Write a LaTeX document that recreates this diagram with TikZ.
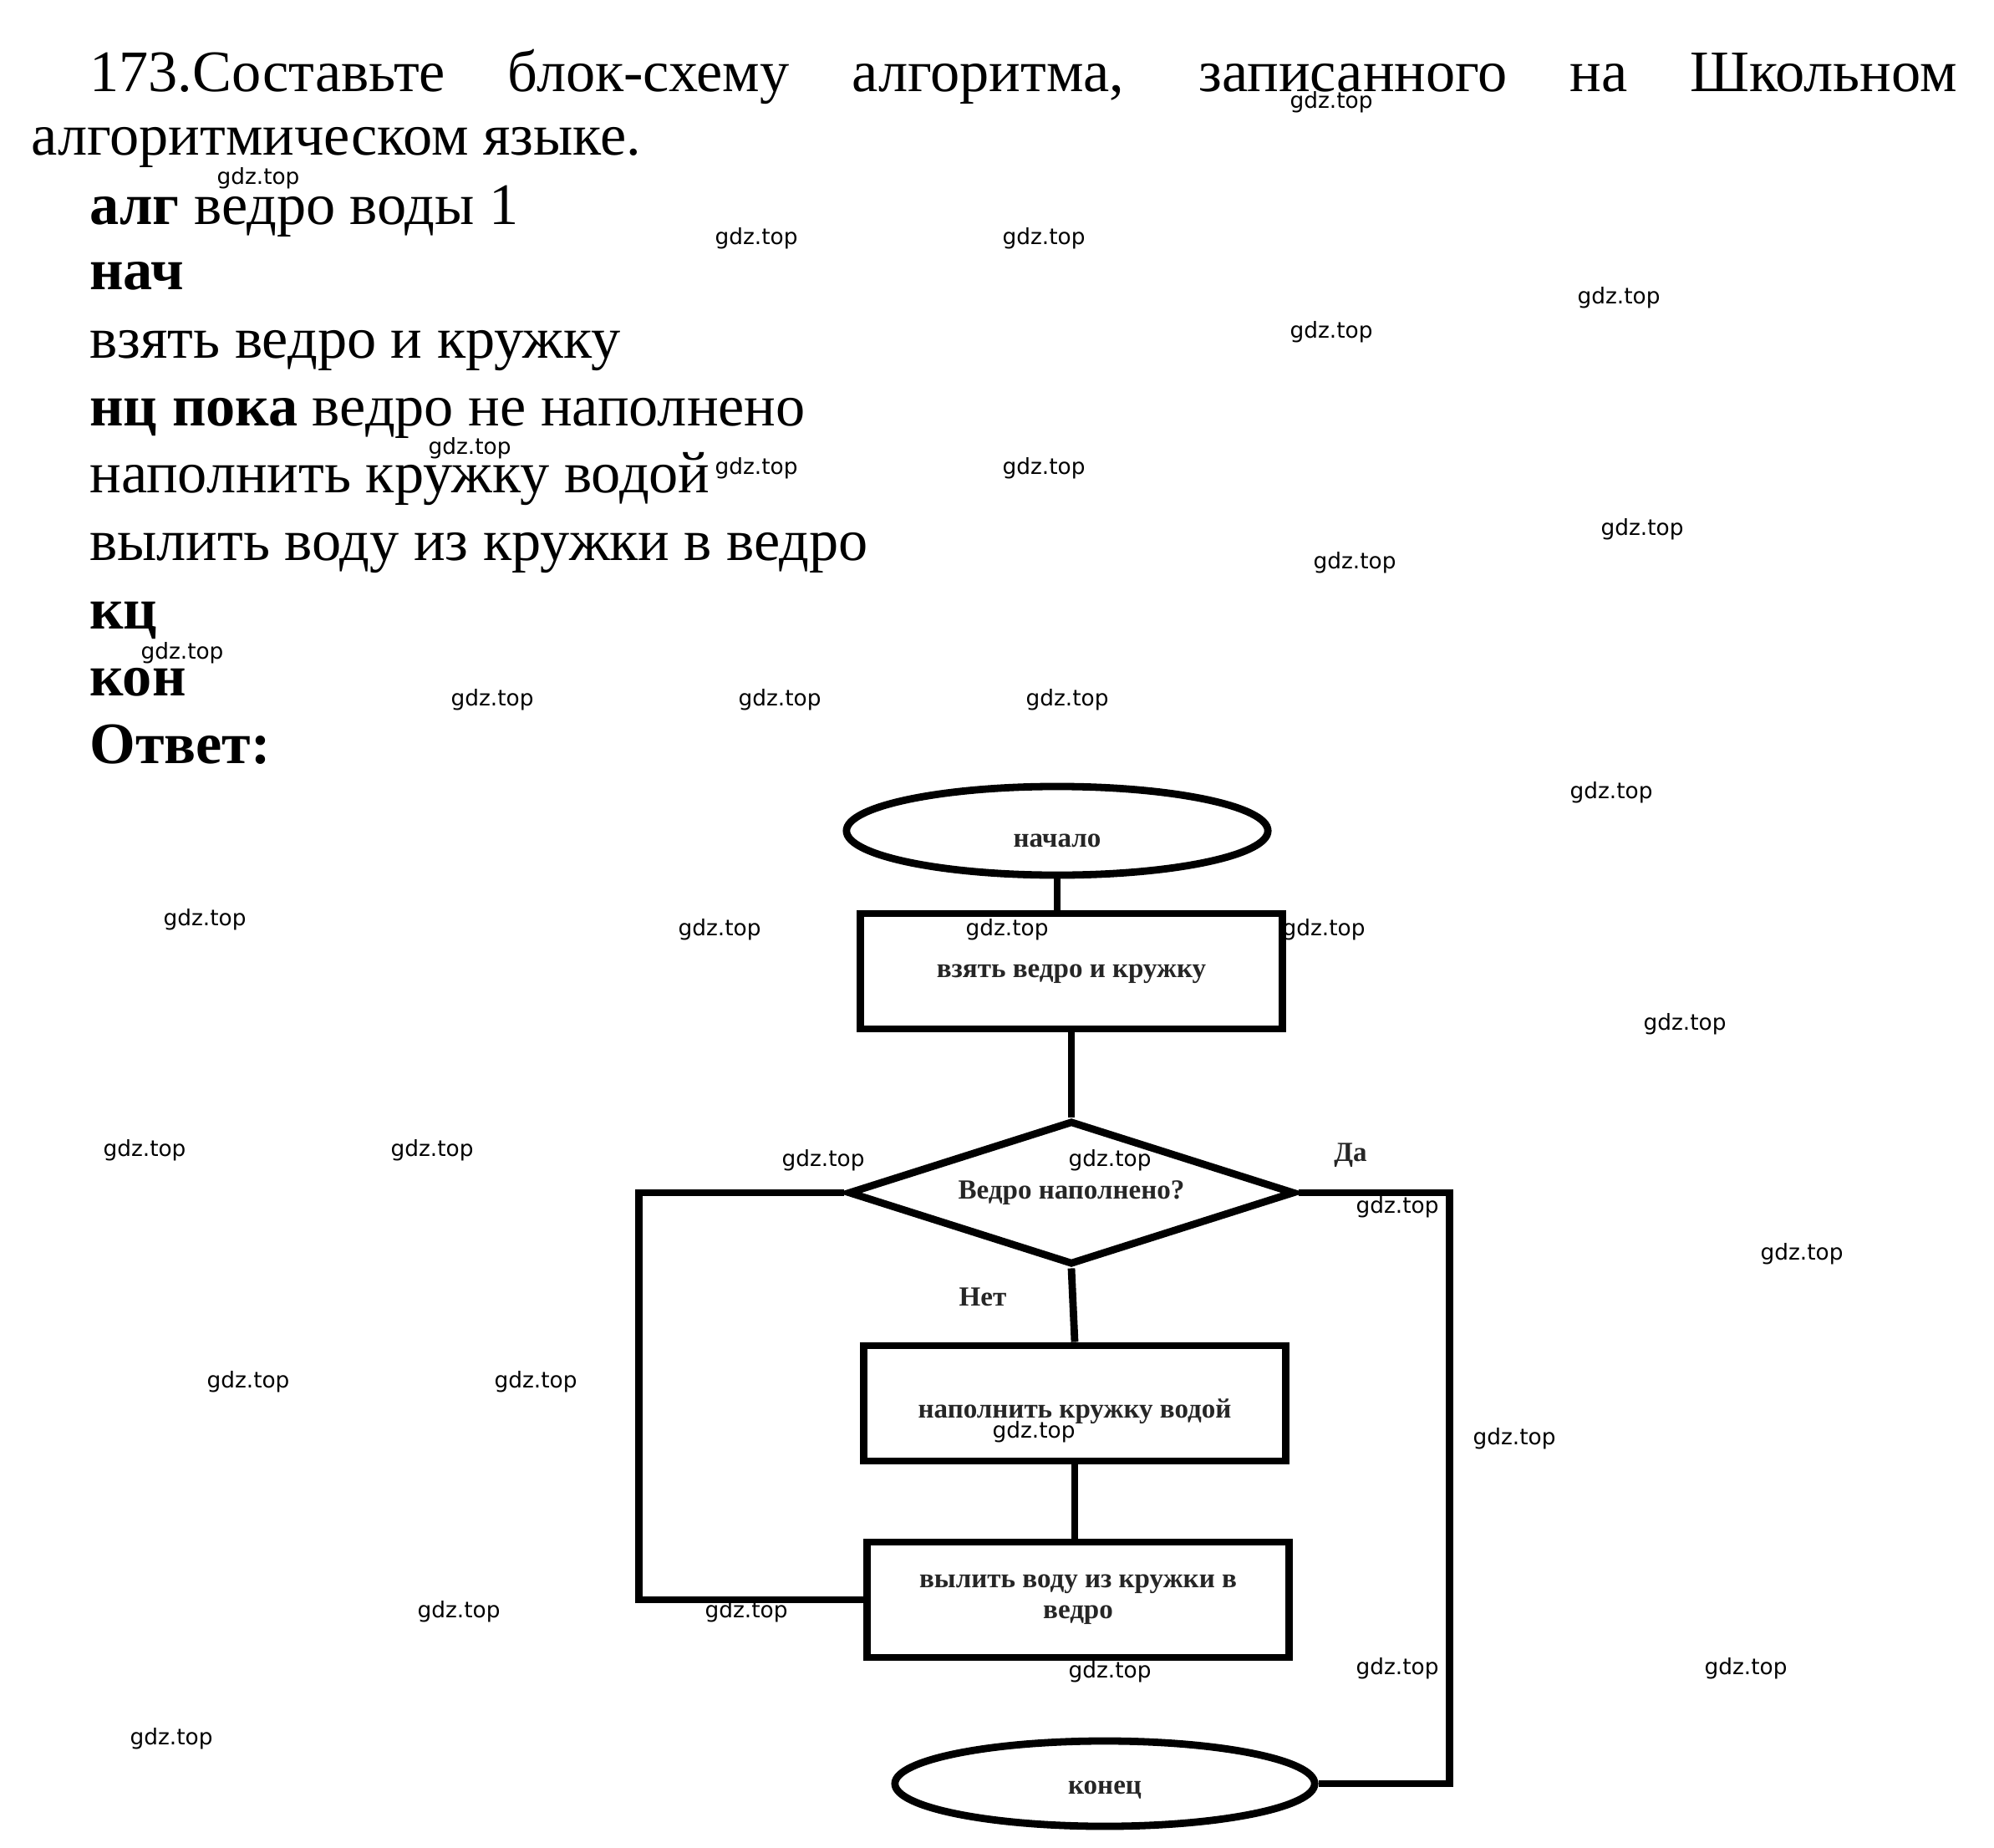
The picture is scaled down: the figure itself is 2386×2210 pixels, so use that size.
\documentclass[tikz,border=0pt]{standalone}
\usepackage{fontspec}
\setmainfont{Liberation Serif}
\newfontfamily\wmfont{DejaVu Sans}
\usetikzlibrary{shapes.geometric}

\newcommand{\lowered}[2]{\raisebox{-#1}[\height][\depth]{#2}}

\begin{document}
\begin{tikzpicture}[x=0.01cm,y=-0.01cm,line width=2.5pt]
    \tikzstyle{txt}=[anchor=base west,inner sep=0pt,font=\fontsize{20}{24}\selectfont]
    \tikzstyle{block}=[draw,line width=2.5pt,inner sep=2pt,font=\fontsize{9.4}{10.5}\selectfont\bfseries,text=black!85]
    \tikzstyle{term}=[block,ellipse]
    \tikzstyle{proc}=[block,rectangle,minimum width=5.04cm,minimum height=1.38cm]
    \tikzstyle{cond}=[block,diamond,aspect=3,minimum width=5.34cm,minimum height=1.72cm]
    \tikzstyle{lbl}=[inner sep=0pt,font=\fontsize{9.4}{10.5}\selectfont\bfseries,text=black!85]
    \tikzstyle{wm}=[inner sep=0pt,font=\wmfont\fontsize{7.5}{9}\selectfont]

    \useasboundingbox (0,0) rectangle (2386,2210);

    % Draw the task text
    \node[txt] (task-1) at (103,110) {\makebox[22.33cm][s]{173.Составьте блок-схему алгоритма, записанного на Школьном}};
    \node[txt] (task-2) at (33,186) {алгоритмическом языке.};

    % Draw the algorithm lines
    \foreach \name/\y/\t in {1/269/{\textbf{алг} ведро воды 1},
                             2/347/{\textbf{нач}},
                             3/429/{взять ведро и кружку},
                             4/510/{\textbf{нц пока} ведро не наполнено},
                             5/590/{наполнить кружку водой},
                             6/671/{вылить воду из кружки в ведро},
                             7/752/{\textbf{кц}},
                             8/832/{\textbf{кон}},
                             9/913/{\textbf{Ответ:}}}
        \node[txt] (code-\name) at (103,\y) {\t};

    % Draw the flowchart blocks
    \node[term,minimum width=5.04cm,minimum height=1.06cm] (start) at (1265,994) {\lowered{0.12cm}{начало}};
    \node[proc] (take) at (1282,1162) {\lowered{0.03cm}{взять ведро и кружку}};
    \node[cond] (check) at (1282,1427) {Ведро наполнено?};
    \node[proc] (fill) at (1286,1679) {\lowered{0.1cm}{наполнить кружку водой}};
    \node[proc,align=center] (pour) at (1290,1914) {вылить воду из кружки в\\ведро};
    \node[term,minimum width=5.02cm,minimum height=1.02cm] (stop) at (1322,2134) {\lowered{0.08cm}{конец}};

    % Connect the blocks
    \draw (start.south) -- (start.south |- take.north);
    \draw (take.south) -- (check.north);
    \draw (check.south) -- (fill.north);
    \draw (fill.south) -- (fill.south |- pour.north);

    % Draw the loop branches
    \draw (check.west) -- ++(-246,0) |- (pour.west);
    \draw (check.east) -- ++(181,0) |- (stop.east);

    % Label the branches
    \node[lbl] (yes) at (1616,1382) {Да};
    \node[lbl] (no) at (1176,1552) {Нет};

    % Draw the watermarks
    \foreach \x/\y [count=\i] in {1593/122, 309/213, 905/285, 1249/285, 1937/356,
                                  1593/397, 562/536, 905/560, 1249/560, 1965/633,
                                  1621/673, 218/781, 589/837, 933/837, 1277/837,
                                  1928/948, 245/1100, 861/1112, 1205/1112, 1584/1112,
                                  2016/1225, 173/1376, 517/1376, 985/1388, 1328/1388,
                                  1672/1444, 2156/1500, 297/1653, 641/1653, 1237/1713,
                                  1812/1721, 549/1928, 893/1928, 1328/2000, 1672/1996,
                                  2089/1996, 205/2080}
        \node[wm] (wm-\i) at (\x,\y) {gdz.top};
\end{tikzpicture}
\end{document}
